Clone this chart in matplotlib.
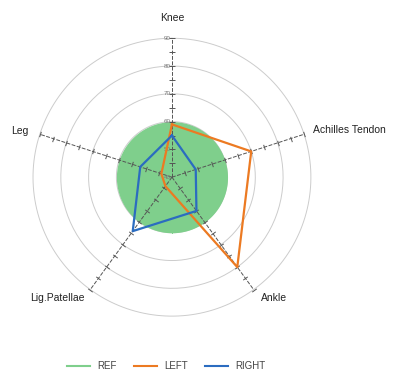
import numpy as np
import matplotlib
matplotlib.use("Agg")
import matplotlib.pyplot as plt

plt.rcParams['font.family'] = ['Liberation Sans', 'DejaVu Sans']

# data
categories = ["Knee", "Achilles Tendon", "Ankle", "Lig.Patellae", "Leg"]
ref_value = 60
left_values = [59, 70, 80, 44, 44]
right_values = [55, 49, 55, 64, 52]
ring_values = [60, 70, 80, 90]
scale_labels = [40, 50, 60, 70, 80, 90]
tick_values = [45, 50, 55, 60, 65, 70, 75, 80, 85, 90]

r_min, r_max = 40, 90

green = "#7fcf8c"
orange = "#ec7a22"
blue = "#2b6cc0"

fig = plt.figure(figsize=(4.01, 3.75), dpi=100)
ax = fig.add_axes([0.0823, 0.157, 0.693, 0.741], projection="polar")
ax.set_theta_offset(np.pi / 2)
ax.set_theta_direction(-1)
ax.set_ylim(r_min, r_max)
ax.grid(False)
ax.spines['polar'].set_visible(False)
ax.set_xticks([])
ax.set_yticks([])
ax.patch.set_alpha(0)

n = len(categories)
angles = np.arange(n) * 2 * np.pi / n

# reference circle
t = np.linspace(0, 2 * np.pi, 200)
ax.fill_between(t, r_min, ref_value, color=green, lw=0, zorder=1)

# rings
for v in ring_values:
    ax.plot(t, np.full_like(t, v), color="#cccccc", lw=0.7, zorder=0.5,
            clip_on=False)

# spokes with ticks
for i, a in enumerate(angles):
    ax.plot([a, a], [r_min, r_max], color="#555555", lw=0.7,
            ls=(0, (4, 1.5)), zorder=2, clip_on=False)
    screen_deg = 90 - np.degrees(a)
    ax.plot(np.full(len(tick_values), a), tick_values, ls="none",
            marker=(2, 0, screen_deg), ms=4, mew=0.7, mec="#555555", zorder=2,
            clip_on=False)

# scale labels on the Knee axis
for v in scale_labels:
    ax.annotate(str(v), (0, v), xytext=(-1, 0), textcoords="offset pixels",
                ha="right", va="center", fontsize=4.5, color="#777777", zorder=3)

# series
la = np.append(angles, angles[0])
ax.plot(la, left_values + left_values[:1], color=orange, lw=1.6, zorder=4)
ax.plot(la, right_values + right_values[:1], color=blue, lw=1.6, zorder=5)

# category labels
label_offsets = [(0, 20, "center"), (9, 4, "left"), (7, -8, "left"),
                 (-6, -8, "right"), (-11, 3, "right")]
for a, name, (dx, dy, ha) in zip(angles, categories, label_offsets):
    ax.annotate(name, (a, r_max), xytext=(dx, dy), textcoords="offset pixels",
                ha=ha, va="center", fontsize=7.5, color="#222222",
                annotation_clip=False)

# legend
handles = [plt.Line2D([], [], color=green, lw=1.5),
           plt.Line2D([], [], color=orange, lw=1.5),
           plt.Line2D([], [], color=blue, lw=1.5)]
fig.legend(handles, ["REF", "LEFT", "RIGHT"], loc="center",
           bbox_to_anchor=(166 / 401, 1 - 366 / 375), ncol=3, frameon=False,
           fontsize=7, handlelength=2.4, columnspacing=1.8, handletextpad=0.7,
           labelcolor="#444444")

fig.savefig("out.png", dpi=100)
